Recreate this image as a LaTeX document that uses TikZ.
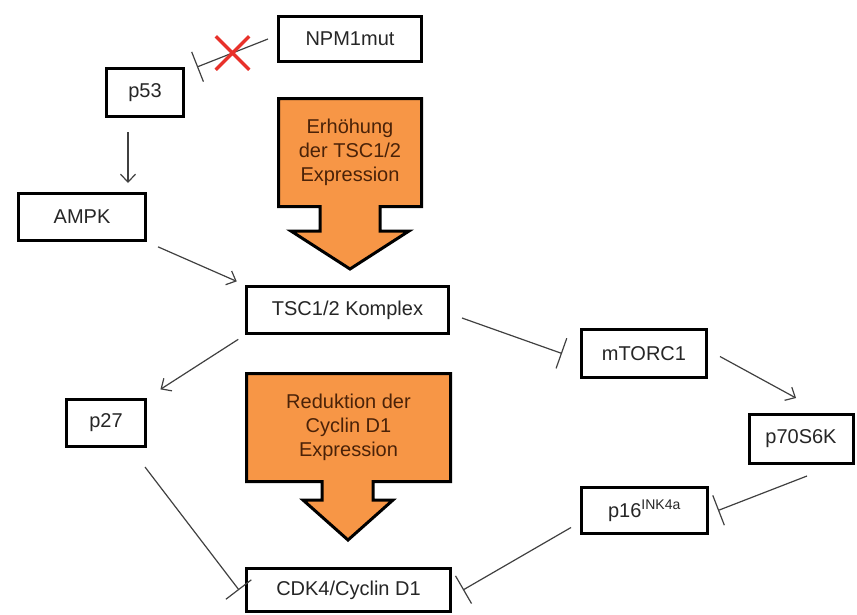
\documentclass[tikz,border=0pt]{standalone}
\usepackage{fontspec}
\setmainfont{Liberation Sans}
\usetikzlibrary{arrows.meta,shapes.misc}

\definecolor{boxtext}{HTML}{262626}
\definecolor{linegray}{HTML}{404040}
\definecolor{effectorange}{HTML}{F79646}
\definecolor{effecttext}{HTML}{4A2208}
\definecolor{crossred}{HTML}{E8312A}

\begin{document}
\begin{tikzpicture}
  [
    x = 1pt, y = -1pt,
    every node/.style = {font=\fontsize{20}{24}\selectfont},
    protein/.style = {draw, line width=3pt, text=boxtext, fill=white, inner sep=0pt},
    effect/.style = {draw, line width=3pt, fill=effectorange, line join=miter},
    effecttext/.style = {text=effecttext, align=center, inner sep=0pt},
    act/.style = {draw=linegray, line width=1.2pt, -{Straight Barb[length=8pt,width=15pt]}},
    inh/.style = {draw=linegray, line width=1.2pt, -{Bar[width=32pt]}},
    xmark/.style = {cross out, draw=crossred, line width=3.5pt, minimum size=30pt, inner sep=0pt},
  ]

  \useasboundingbox (0,0) rectangle (857,614);

  % proteins
  \node[protein, minimum width=143pt, minimum height=45pt] (npm) at (350,39) {NPM1mut};
  \node[protein, minimum width=77pt, minimum height=48pt] (p53) at (145,92.5) {p53};
  \node[protein, minimum width=127pt, minimum height=47pt] (ampk) at (82,217) {AMPK};
  \node[protein, minimum width=202pt, minimum height=47pt] (tsc) at (347.5,310) {TSC1/2 Komplex};
  \node[protein, minimum width=125pt, minimum height=48pt] (mtorc) at (644,353.5) {mTORC1};
  \node[protein, minimum width=79pt, minimum height=47pt] (p27) at (106,423) {p27};
  \node[protein, minimum width=104pt, minimum height=49pt] (p70) at (801,439) {p70S6K};
  \node[protein, minimum width=126pt, minimum height=46pt] (p16) at (644.5,510.5) {p16\textsuperscript{INK4a}};
  \node[protein, minimum width=204pt, minimum height=43pt] (cdk) at (348.5,590) {CDK4/Cyclin D1};

  % effects (block arrows)
  \draw[effect] (278.5,98.5) -- (421.5,98.5) -- (421.5,206.5) -- (380,206.5) -- (380,231)
    -- (409,231) -- (350,269) -- (291,231) -- (320,231) -- (320,206.5) -- (278.5,206.5) -- cycle;
  \node[effecttext] (tscup) at (350,152.5) {Erhöhung\\der TSC1/2\\Expression};

  \draw[effect] (246.5,373.5) -- (450.5,373.5) -- (450.5,481.5) -- (373,481.5) -- (373,500)
    -- (393,500) -- (348,540) -- (303,500) -- (322,500) -- (322,481.5) -- (246.5,481.5) -- cycle;
  \node[effecttext] (cyclindown) at (348.5,427.5) {Reduktion der\\Cyclin D1\\Expression};

  % connectors
  \draw[inh] ([xshift=-9pt]npm.west) -- node[xmark] (blocked) {} ([xshift=12pt]p53.north east);
  \draw[act, shorten <=14pt, shorten >=9pt] ([xshift=-17pt]p53.south) -- ([xshift=46pt]ampk.north);
  \draw[act, shorten <=12pt, shorten >=9pt] (ampk.south east) -- (tsc.north west);
  \draw[act, shorten <=8pt, shorten >=16pt] (tsc.south west) -- (p27.north east);
  \draw[inh] ([xshift=-2pt,yshift=-19pt]p27.south east) -- ([xshift=-6pt]cdk.west);
  \draw[inh] ([xshift=12pt,yshift=-8pt]tsc.east) -- ([xshift=-18pt]mtorc.west);
  \draw[act] ([xshift=12pt,yshift=-3pt]mtorc.east) -- ([xshift=-5pt,yshift=15pt]p70.north);
  \draw[inh] ([xshift=6pt,yshift=-11pt]p70.south) -- ([xshift=9pt]p16.east);
  \draw[inh] ([xshift=-9pt,yshift=-17pt]p16.west) -- ([xshift=11pt]cdk.east);

\end{tikzpicture}
\end{document}
